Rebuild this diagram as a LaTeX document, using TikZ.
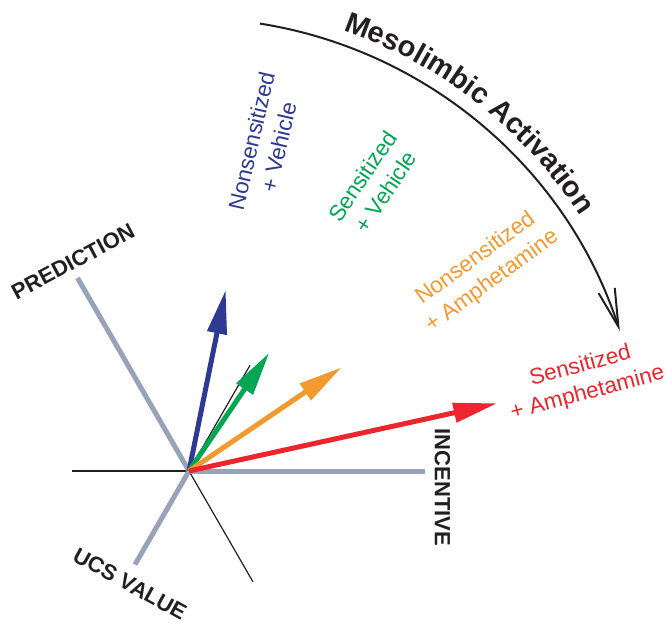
\documentclass[tikz,border=0pt]{standalone}
\usepackage{fontspec}
\setmainfont{Liberation Sans}
\usetikzlibrary{arrows.meta,decorations.text}
\definecolor{cblue}{RGB}{46,57,146}
\definecolor{cgreen}{RGB}{0,166,81}
\definecolor{corange}{RGB}{243,154,46}
\definecolor{cred}{RGB}{236,38,44}
\definecolor{cgray}{RGB}{152,163,186}
\definecolor{cblack}{RGB}{35,31,32}
\newcommand\mesofont{\fontsize{29}{30}\selectfont\bfseries}
\begin{document}
\begin{tikzpicture}[x=1pt,y=1pt,
  axisline/.style={line width=5pt, draw=cgray},
  thinline/.style={line width=1.2pt, draw=cblack},
  vec/.style={line width=5pt, -{Triangle[length=44pt,width=19pt]}},
  lab/.style={font=\fontsize{22.5}{28}\selectfont, align=center, inner sep=0pt},
  axlab/.style={font=\fontsize{22}{25}\selectfont\bfseries, text=cblack, inner sep=0pt}]
\useasboundingbox (-189,-153) rectangle (477,471);
% coordinates
\coordinate (O) at (0,0);
\coordinate (L) at (-117,0);
\coordinate (DR) at (-60:128);
\coordinate (UR) at (60:122);
\coordinate (P) at (120:223);
\coordinate (U) at (240:108);
\coordinate (I) at (236,0);
\coordinate (tb) at (36.7,181);
\coordinate (tg) at (80.3,118.3);
\coordinate (to) at (152.7,103.7);
\coordinate (tr) at (308.3,67.7);
\coordinate (A1) at (81:453);
% thin black lines
\draw[thinline] (L) -- (O);
\draw[thinline] (O) -- (DR);
\draw[thinline] (O) -- (UR);
% gray axes
\draw[axisline] (O) -- (P);
\draw[axisline] (O) -- (U);
\draw[axisline] (O) -- (I);
% vectors
\draw[vec, cblue] (O) -- (tb);
\draw[vec, cgreen] (O) -- (tg);
\draw[vec, corange] (O) -- (to);
\draw[vec, cred] (O) -- (tr);
% arc
\draw[line width=2pt, draw=cblack, -{Straight Barb[length=38pt,width=17pt]}] (A1) arc[start angle=81, end angle=18, radius=453];
\path[decorate, decoration={text along path, text={|\mesofont|Mesolimbic Activation}, text color=cblack}]
  (70.7:467) arc[start angle=70.7, end angle=20, radius=467];
% labels
\node[lab, text=cblue, rotate=77] (nb) at (76,327) {Nonsensitized\\+ Vehicle};
\node[lab, text=cgreen, rotate=56] (ng) at (185,287) {Sensitized\\+ Vehicle};
\node[lab, text=corange, rotate=36] (no) at (295,201) {Nonsensitized\\+ Amphetamine};
\node[lab, text=cred, rotate=15] (nr) at (395,91) {Sensitized\\+ Amphetamine};
\node[axlab, rotate=28] (np) at (-116,209.5) {PREDICTION};
\node[axlab, rotate=-29] (nu) at (-59,-113) {UCS VALUE};
\node[axlab, rotate=-90] (ni) at (253.5,-16.5) {INCENTIVE};
\end{tikzpicture}
\end{document}
